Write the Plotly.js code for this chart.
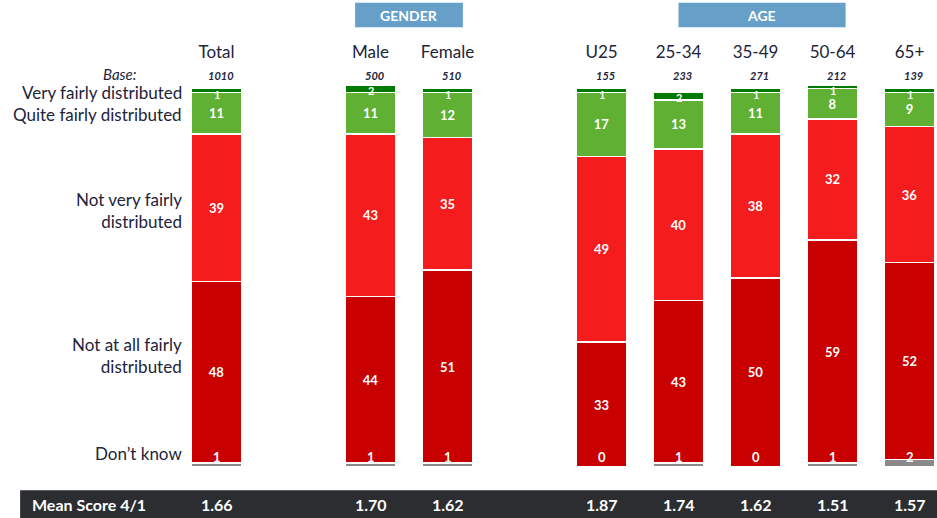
<!DOCTYPE html>
<html>
<head>
<meta charset="utf-8">
<script src="https://cdn.plot.ly/plotly-3.0.1.min.js"></script>
<style>
  body { margin: 0; background: #fff; }
  #chart { width: 937px; height: 518px; }
</style>
</head>
<body>
<div id="chart"></div>
<script>
// slots along the x axis, with two blank spacers between the groups
var slots = ["Total", "gap1", "Male", "Female", "gap2", "U25", "25-34", "35-49", "50-64", "65+"];
var groups = ["Total", "Male", "Female", "U25", "25-34", "35-49", "50-64", "65+"];

var dontKnow = [1, 1, 1, 0, 1, 0, 1, 2];
var notAtAll = [48, 44, 51, 33, 43, 50, 59, 52];
var notVery = [39, 43, 35, 49, 40, 38, 32, 36];
var quite = [11, 11, 12, 17, 13, 11, 8, 9];
var very = [1, 2, 1, 1, 2, 1, 1, 1];

var bases = [1010, 500, 510, 155, 233, 271, 212, 139];
var means = ["1.66", "1.70", "1.62", "1.87", "1.74", "1.62", "1.51", "1.57"];

var textCol = "#22243a";
var fontFam = "Lato, 'Open Sans', sans-serif";

function seg(name, vals, color, showText) {
  return {
    type: "bar",
    name: name,
    x: groups,
    y: vals,
    marker: { color: color, line: { color: "#ffffff", width: 1.5 } },
    text: showText ? vals.map(String) : null,
    textposition: showText ? "inside" : "none",
    insidetextanchor: "middle",
    constraintext: "none",
    cliponaxis: false,
    textfont: { color: "#ffffff", size: 13, family: fontFam, weight: "bold" },
    hoverinfo: "name+y",
  };
}

var data = [
  seg("Don’t know", dontKnow, "#8a8a8a", false),
  seg("Not at all fairly distributed", notAtAll, "#c80000", true),
  seg("Not very fairly distributed", notVery, "#f41c1c", true),
  seg("Quite fairly distributed", quite, "#60b033", true),
  seg("Very fairly distributed", very, "#007a00", false),
  // keeps the spacer slots on the axis
  { type: "bar", x: ["gap1", "gap2"], y: [null, null], showlegend: false, hoverinfo: "skip" },
];

var annotations = [];

// left-hand row labels
var rowLabels = [
  ["Very fairly distributed", 0.978],
  ["Quite fairly distributed", 0.92],
  ["Not very fairly<br>distributed", 0.67],
  ["Not at all fairly<br>distributed", 0.29],
  ["Don’t know", 0.035],
];
rowLabels.forEach(function (r) {
  annotations.push({
    xref: "paper", yref: "paper", x: 0.008, y: r[1],
    xanchor: "right", yanchor: "middle", align: "right", showarrow: false,
    text: r[0], font: { size: 17, color: textCol, family: fontFam },
  });
});

annotations.push({
  xref: "paper", yref: "paper", x: -0.051, y: 1.026,
  xanchor: "right", yanchor: "middle", showarrow: false,
  text: "<i>Base:</i>", font: { size: 15, color: textCol, family: fontFam },
});

groups.forEach(function (g, i) {
  var top = dontKnow[i] + notAtAll[i] + notVery[i] + quite[i] + very[i];
  // base sizes
  annotations.push({
    xref: "x", yref: "paper", x: g, y: 1.023, xshift: 4,
    xanchor: "center", yanchor: "middle", showarrow: false,
    text: "<i>" + bases[i] + "</i>", font: { size: 11, color: textCol, family: fontFam, weight: "bold" },
  });
  // very fairly values, sitting just under the top of the stack
  annotations.push({
    xref: "x", yref: "y", x: g, y: top, yshift: 3,
    xanchor: "center", yanchor: "top", showarrow: false,
    text: String(very[i]), font: { size: 11, color: "#ffffff", family: fontFam, weight: "bold" },
  });
  // don't know values
  annotations.push({
    xref: "x", yref: "y", x: g, y: 0, yshift: 0,
    xanchor: "center", yanchor: "bottom", showarrow: false,
    text: String(dontKnow[i]), font: { size: 13, color: "#ffffff", family: fontFam, weight: "bold" },
  });
  // mean scores
  annotations.push({
    xref: "x", yref: "paper", x: g, y: -0.097,
    xanchor: "center", yanchor: "middle", showarrow: false,
    text: means[i], font: { size: 16, color: "#ffffff", family: fontFam, weight: "bold" },
  });
});

annotations.push({
  xref: "paper", yref: "paper", x: -0.195, y: -0.097,
  xanchor: "left", yanchor: "middle", showarrow: false,
  text: "Mean Score 4/1", font: { size: 16, color: "#ffffff", family: fontFam, weight: "bold" },
});

annotations.push({
  xref: "x", yref: "paper", x: 2.5, y: 1.18, xanchor: "center", yanchor: "middle",
  showarrow: false, text: "GENDER", font: { size: 14, color: "#ffffff", family: fontFam, weight: "bold" },
});
annotations.push({
  xref: "x", yref: "paper", x: 7.08, y: 1.18, xanchor: "center", yanchor: "middle",
  showarrow: false, text: "AGE", font: { size: 14, color: "#ffffff", family: fontFam, weight: "bold" },
});

var shapes = [
  { type: "rect", xref: "x", yref: "paper", x0: 1.8, x1: 3.2, y0: 1.148, y1: 1.212,
    fillcolor: "#66a0c8", line: { width: 0 } },
  { type: "rect", xref: "x", yref: "paper", x0: 6.0, x1: 8.17, y0: 1.148, y1: 1.212,
    fillcolor: "#66a0c8", line: { width: 0 } },
  { type: "rect", xref: "paper", yref: "paper", x0: -0.208, x1: 1.0, y0: -0.136, y1: -0.061,
    fillcolor: "#2b2d31", line: { width: 0 } },
];

var layout = {
  width: 937,
  height: 518,
  margin: { l: 178, r: 0, t: 84, b: 51 },
  paper_bgcolor: "#ffffff",
  plot_bgcolor: "#ffffff",
  barmode: "stack",
  bargap: 0.35,
  showlegend: false,
  xaxis: {
    type: "category",
    categoryorder: "array",
    categoryarray: slots,
    range: [-0.5, 9.357],
    side: "top",
    tickvals: groups,
    ticktext: groups,
    ticks: "",
    ticklabelstandoff: 22,
    tickfont: { size: 17, color: textCol, family: fontFam },
    showgrid: false,
    zeroline: false,
    showline: false,
  },
  yaxis: {
    range: [0, 101.2],
    visible: false,
    showgrid: false,
    zeroline: false,
  },
  annotations: annotations,
  shapes: shapes,
};

Plotly.newPlot("chart", data, layout, { displayModeBar: false });
</script>
</body>
</html>
